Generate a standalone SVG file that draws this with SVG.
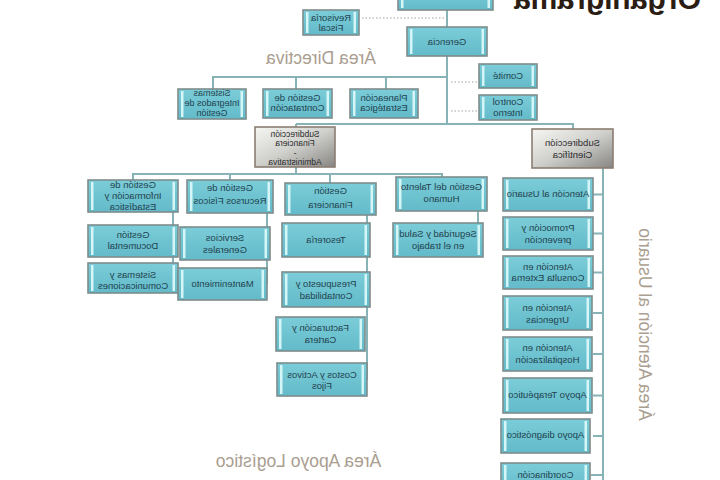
<svg xmlns="http://www.w3.org/2000/svg" width="720" height="480" viewBox="0 0 720 480">
<defs>
<linearGradient id="gsub" x1="0" y1="0" x2="1" y2="1">
<stop offset="0" stop-color="#f6f6f3"/>
<stop offset="0.5" stop-color="#cfcfcc"/>
<stop offset="1" stop-color="#868582"/>
</linearGradient>
<linearGradient id="gbox" x1="0" y1="0" x2="0" y2="1">
<stop offset="0" stop-color="#7bcdd8"/>
<stop offset="1" stop-color="#63bac9"/>
</linearGradient>
</defs>
<style>
.bx{fill:url(#gbox);stroke:#7e8c8c;stroke-width:1.6}
.sb{fill:url(#gsub);stroke:#8b7e72;stroke-width:1.6}
.hl{fill:#d6f5f7}
.t{font-family:"Liberation Sans",Arial,sans-serif;font-size:9.5px;fill:#22424f;text-anchor:middle}
.ts{font-family:"Liberation Sans",Arial,sans-serif;font-size:9.5px;fill:#2b2b2b;text-anchor:middle}
.ln{stroke:#88b3b6;stroke-width:2;fill:none}
.dt{stroke:#9aa3a3;stroke-width:1;stroke-dasharray:1.5 2;fill:none}
.area{font-family:"Liberation Sans",Arial,sans-serif;font-size:17.5px;fill:#aa9e90;text-anchor:middle}
.title{font-family:"Liberation Sans",Arial,sans-serif;font-size:30px;font-weight:bold;fill:#2b1d14;text-anchor:middle}
</style>
<rect width="720" height="480" fill="#ffffff"/>

<g id="connectors">
<path class="ln" d="M447 10V124M213 89V77H447M296 77V89M386 77V89M296 124H573V129M296 124V127M296 167V174M133 180V174H442V177M230 174V180M330 174V183"/>
<path class="ln" d="M173 212V278M267 213V284M367 215V380M478 211V223"/>
<path class="ln" d="M603 168V480M593 194.5H603M593 233.5H603M593 272.5H603M593 313H603M593 354H603M593 395.5H603M593 436H603M591 475H603"/>
<path class="dt" d="M362 18H447M451 82H479M451 111H479"/>
</g>

<text class="title" x="607.5" y="9" transform="matrix(-1 0 0 1 1215 0)">Organigrama</text>
<text class="area" x="321" y="64" transform="matrix(-1 0 0 1 642 0)">Área Directiva</text>
<text class="area" x="298.5" y="467" transform="matrix(-1 0 0 1 597 0)">Área Apoyo Logístico</text>
<text class="area" x="0" y="0" transform="translate(639 324.5) scale(-1 1) rotate(-90)">Área Atención al Usuario</text>

<g id="n-top"><rect class="bx" x="398" y="-10" width="95" height="20"/><rect class="hl" x="401" y="-8" width="2.5" height="16"/><rect class="hl" x="487.5" y="-8" width="2.5" height="16"/></g>

<g id="n-revisoria"><rect class="bx" x="303" y="10" width="56" height="25"/><rect class="hl" x="306" y="12" width="2.5" height="21"/><rect class="hl" x="353.5" y="12" width="2.5" height="21"/>
<text class="t" transform="matrix(-1 0 0 1 662 0)"><tspan x="331" y="21">Revisoría</tspan><tspan x="331" y="31">Fiscal</tspan></text></g>

<g id="n-gerencia"><rect class="bx" x="407" y="27" width="80" height="29"/><rect class="hl" x="410" y="29" width="2.5" height="25"/><rect class="hl" x="481.5" y="29" width="2.5" height="25"/>
<text class="t" x="447" y="45" transform="matrix(-1 0 0 1 894 0)">Gerencia</text></g>

<g id="n-comite"><rect class="bx" x="479" y="64" width="58" height="24"/><rect class="hl" x="482" y="66" width="2.5" height="20"/><rect class="hl" x="531.5" y="66" width="2.5" height="20"/>
<text class="t" x="508" y="79.3" transform="matrix(-1 0 0 1 1016 0)">Comité</text></g>

<g id="n-control"><rect class="bx" x="479" y="95" width="58" height="25"/><rect class="hl" x="482" y="97" width="2.5" height="21"/><rect class="hl" x="531.5" y="97" width="2.5" height="21"/>
<text class="t" transform="matrix(-1 0 0 1 1016 0)"><tspan x="508" y="105.3">Control</tspan><tspan x="508" y="116.3">Interno</tspan></text></g>

<g id="n-sistemas"><rect class="bx" x="178" y="89" width="68" height="30"/><rect class="hl" x="181" y="91" width="2.5" height="26"/><rect class="hl" x="240.5" y="91" width="2.5" height="26"/>
<text class="t" style="font-size:9px" transform="matrix(-1 0 0 1 424 0)"><tspan x="212" y="95.5">Sistemas</tspan><tspan x="212" y="106">Integrados de</tspan><tspan x="212" y="116">Gestión</tspan></text></g>

<g id="n-contratacion"><rect class="bx" x="263" y="89" width="69" height="29"/><rect class="hl" x="266" y="91" width="2.5" height="25"/><rect class="hl" x="326.5" y="91" width="2.5" height="25"/>
<text class="t" transform="matrix(-1 0 0 1 595 0)"><tspan x="297.5" y="101.3">Gestión de</tspan><tspan x="297.5" y="111.3">Contratación</tspan></text></g>

<g id="n-planeacion"><rect class="bx" x="350" y="89" width="68" height="29"/><rect class="hl" x="353" y="91" width="2.5" height="25"/><rect class="hl" x="412.5" y="91" width="2.5" height="25"/>
<text class="t" transform="matrix(-1 0 0 1 768 0)"><tspan x="384" y="101.3">Planeación</tspan><tspan x="384" y="111.3">Estratégica</tspan></text></g>

<g id="n-subfin"><rect class="sb" x="255" y="127" width="80" height="40"/>
<text class="ts" style="font-size:8.5px" transform="matrix(-1 0 0 1 590 0)"><tspan x="295" y="136.8">Subdirección</tspan><tspan x="295" y="146.3">Financiera</tspan><tspan x="295" y="155.8">-</tspan><tspan x="295" y="165.3">Administrativa</tspan></text></g>

<g id="n-subcien"><rect class="sb" x="532" y="129" width="81" height="39"/>
<text class="ts" transform="matrix(-1 0 0 1 1145 0)"><tspan x="572.5" y="146.3">Subdirección</tspan><tspan x="572.5" y="158.3">Científica</tspan></text></g>

<g id="n-ginfo"><rect class="bx" x="88" y="180" width="90" height="32"/><rect class="hl" x="91" y="182" width="2.5" height="28"/><rect class="hl" x="172.5" y="182" width="2.5" height="28"/>
<text class="t" transform="matrix(-1 0 0 1 266 0)"><tspan x="133" y="188.3">Gestión de</tspan><tspan x="133" y="199.3">Información y</tspan><tspan x="133" y="210.3">Estadística</tspan></text></g>

<g id="n-grf"><rect class="bx" x="187" y="180" width="86" height="33"/><rect class="hl" x="190" y="182" width="2.5" height="29"/><rect class="hl" x="267.5" y="182" width="2.5" height="29"/>
<text class="t" transform="matrix(-1 0 0 1 460 0)"><tspan x="230" y="191.3">Gestión de</tspan><tspan x="230" y="204.3">Recursos Físicos</tspan></text></g>

<g id="n-gfin"><rect class="bx" x="285" y="183" width="91" height="32"/><rect class="hl" x="288" y="185" width="2.5" height="28"/><rect class="hl" x="370.5" y="185" width="2.5" height="28"/>
<text class="t" transform="matrix(-1 0 0 1 661 0)"><tspan x="330.5" y="194.3">Gestión</tspan><tspan x="330.5" y="208.3">Financiera</tspan></text></g>

<g id="n-gth"><rect class="bx" x="396" y="177" width="91" height="34"/><rect class="hl" x="399" y="179" width="2.5" height="30"/><rect class="hl" x="481.5" y="179" width="2.5" height="30"/>
<text class="t" transform="matrix(-1 0 0 1 883 0)"><tspan x="441.5" y="190.3">Gestión del Talento</tspan><tspan x="441.5" y="202.3">Humano</tspan></text></g>

<g id="n-gdoc"><rect class="bx" x="88" y="225" width="90" height="32"/><rect class="hl" x="91" y="227" width="2.5" height="28"/><rect class="hl" x="172.5" y="227" width="2.5" height="28"/>
<text class="t" transform="matrix(-1 0 0 1 266 0)"><tspan x="133" y="238.3">Gestión</tspan><tspan x="133" y="249.3">Documental</tspan></text></g>

<g id="n-sistcom"><rect class="bx" x="88" y="263" width="90" height="30"/><rect class="hl" x="91" y="265" width="2.5" height="26"/><rect class="hl" x="172.5" y="265" width="2.5" height="26"/>
<text class="t" transform="matrix(-1 0 0 1 266 0)"><tspan x="133" y="278.3">Sistemas y</tspan><tspan x="133" y="289.3">Comunicaciones</tspan></text></g>

<g id="n-servicios"><rect class="bx" x="180" y="227" width="90" height="33"/><rect class="hl" x="183" y="229" width="2.5" height="29"/><rect class="hl" x="264.5" y="229" width="2.5" height="29"/>
<text class="t" transform="matrix(-1 0 0 1 450 0)"><tspan x="225" y="241.3">Servicios</tspan><tspan x="225" y="253.3">Generales</tspan></text></g>

<g id="n-mant"><rect class="bx" x="178" y="268" width="89" height="32"/><rect class="hl" x="181" y="270" width="2.5" height="28"/><rect class="hl" x="261.5" y="270" width="2.5" height="28"/>
<text class="t" x="222.5" y="287.3" transform="matrix(-1 0 0 1 445 0)">Mantenimiento</text></g>

<g id="n-tesoreria"><rect class="bx" x="282" y="223" width="88" height="34"/><rect class="hl" x="285" y="225" width="2.5" height="30"/><rect class="hl" x="364.5" y="225" width="2.5" height="30"/>
<text class="t" x="326" y="243.3" transform="matrix(-1 0 0 1 652 0)">Tesorería</text></g>

<g id="n-presupuesto"><rect class="bx" x="282" y="272" width="88" height="35"/><rect class="hl" x="285" y="274" width="2.5" height="31"/><rect class="hl" x="364.5" y="274" width="2.5" height="31"/>
<text class="t" transform="matrix(-1 0 0 1 652 0)"><tspan x="326" y="287.3">Presupuesto y</tspan><tspan x="326" y="299.3">Contabilidad</tspan></text></g>

<g id="n-facturacion"><rect class="bx" x="276" y="317" width="89" height="34"/><rect class="hl" x="279" y="319" width="2.5" height="30"/><rect class="hl" x="359.5" y="319" width="2.5" height="30"/>
<text class="t" transform="matrix(-1 0 0 1 641 0)"><tspan x="320.5" y="331.3">Facturación y</tspan><tspan x="320.5" y="343.3">Cartera</tspan></text></g>

<g id="n-costos"><rect class="bx" x="277" y="363" width="90" height="33"/><rect class="hl" x="280" y="365" width="2.5" height="29"/><rect class="hl" x="361.5" y="365" width="2.5" height="29"/>
<text class="t" transform="matrix(-1 0 0 1 644 0)"><tspan x="322" y="378.3">Costos y Activos</tspan><tspan x="322" y="389.3">Fijos</tspan></text></g>

<g id="n-seguridad"><rect class="bx" x="393" y="223" width="90" height="34"/><rect class="hl" x="396" y="225" width="2.5" height="30"/><rect class="hl" x="477.5" y="225" width="2.5" height="30"/>
<text class="t" transform="matrix(-1 0 0 1 876 0)"><tspan x="438" y="237.3">Seguridad y Salud</tspan><tspan x="438" y="249.3">en el trabajo</tspan></text></g>

<g id="n-atusuario"><rect class="bx" x="503" y="178" width="90" height="33"/><rect class="hl" x="506" y="180" width="2.5" height="29"/><rect class="hl" x="587.5" y="180" width="2.5" height="29"/>
<text class="t" x="548" y="197.3" transform="matrix(-1 0 0 1 1096 0)">Atención al Usuario</text></g>

<g id="n-promocion"><rect class="bx" x="503" y="217" width="90" height="33"/><rect class="hl" x="506" y="219" width="2.5" height="29"/><rect class="hl" x="587.5" y="219" width="2.5" height="29"/>
<text class="t" transform="matrix(-1 0 0 1 1096 0)"><tspan x="548" y="231.3">Promoción y</tspan><tspan x="548" y="243.3">prevención</tspan></text></g>

<g id="n-consulta"><rect class="bx" x="503" y="256" width="90" height="33"/><rect class="hl" x="506" y="258" width="2.5" height="29"/><rect class="hl" x="587.5" y="258" width="2.5" height="29"/>
<text class="t" transform="matrix(-1 0 0 1 1096 0)"><tspan x="548" y="270.3">Atención en</tspan><tspan x="548" y="281.3">Consulta Externa</tspan></text></g>

<g id="n-urgencias"><rect class="bx" x="503" y="296" width="89" height="34"/><rect class="hl" x="506" y="298" width="2.5" height="30"/><rect class="hl" x="586.5" y="298" width="2.5" height="30"/>
<text class="t" transform="matrix(-1 0 0 1 1095 0)"><tspan x="547.5" y="311.3">Atención en</tspan><tspan x="547.5" y="323.3">Urgencias</tspan></text></g>

<g id="n-hospital"><rect class="bx" x="503" y="337" width="89" height="34"/><rect class="hl" x="506" y="339" width="2.5" height="30"/><rect class="hl" x="586.5" y="339" width="2.5" height="30"/>
<text class="t" transform="matrix(-1 0 0 1 1095 0)"><tspan x="547.5" y="351.3">Atención en</tspan><tspan x="547.5" y="363.3">Hospitalización</tspan></text></g>

<g id="n-terapeutico"><rect class="bx" x="503" y="378" width="89" height="35"/><rect class="hl" x="506" y="380" width="2.5" height="31"/><rect class="hl" x="586.5" y="380" width="2.5" height="31"/>
<text class="t" x="547.5" y="398.3" transform="matrix(-1 0 0 1 1095 0)">Apoyo Terapéutico</text></g>

<g id="n-diagnostico"><rect class="bx" x="501" y="419" width="89" height="34"/><rect class="hl" x="504" y="421" width="2.5" height="30"/><rect class="hl" x="584.5" y="421" width="2.5" height="30"/>
<text class="t" x="545.5" y="438.3" transform="matrix(-1 0 0 1 1091 0)">Apoyo diagnóstico</text></g>

<g id="n-coordinacion"><rect class="bx" x="501" y="463" width="89" height="30"/><rect class="hl" x="504" y="465" width="2.5" height="26"/><rect class="hl" x="584.5" y="465" width="2.5" height="26"/>
<text class="t" x="545.5" y="478.3" transform="matrix(-1 0 0 1 1091 0)">Coordinación</text></g>
</svg>
